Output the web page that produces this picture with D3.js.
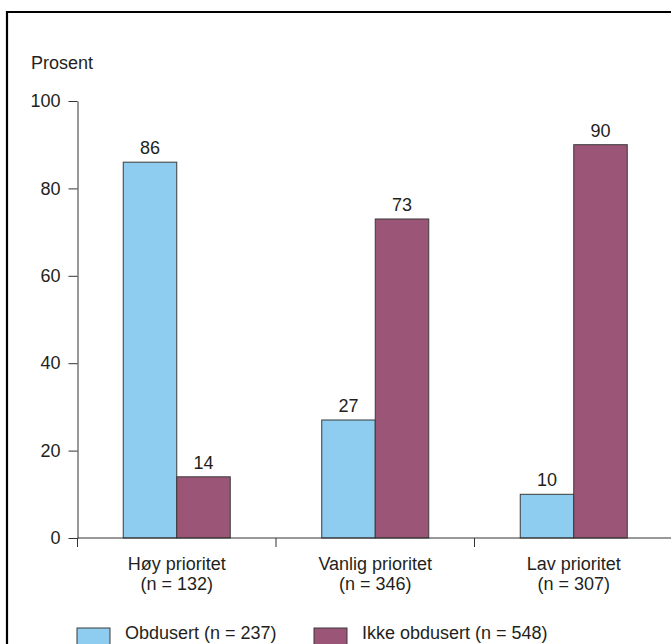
<!DOCTYPE html>
<html>
<head>
<meta charset="utf-8">
<script src="https://cdn.jsdelivr.net/npm/d3@7"></script>
<style>
  html, body { margin: 0; padding: 0; background: #fff; }
  svg { display: block; font-family: "Liberation Sans", Arial, Helvetica, sans-serif; }
</style>
</head>
<body>
<svg id="chart" width="671" height="644"></svg>
<script>
// Andel obdusert / ikke obdusert etter prioritet
const categories = ["Høy prioritet", "Vanlig prioritet", "Lav prioritet"];
const categoryN = ["(n = 132)", "(n = 346)", "(n = 307)"];
const seriesNames = ["Obdusert (n = 237)", "Ikke obdusert (n = 548)"];
const obdusert = [86, 27, 10];
const ikkeObdusert = [14, 73, 90];
const yTicks = [0, 20, 40, 60, 80, 100];
const yLabel = "Prosent";
const colors = ["#8ecdef", "#9b5577"];

const svg = d3.select("#chart");
const textColor = "#231f20";
const axisColor = "#333";

// outer frame (left and top edges)
svg.append("path")
  .attr("d", "M7,650 V12 H680")
  .attr("fill", "none")
  .attr("stroke", "#000")
  .attr("stroke-width", 2.2);

const x = d3.scaleBand().domain(categories).range([77.5, 673]).padding(0);
const y = d3.scaleLinear().domain([0, 100]).range([538, 101]);
const groupWidth = 107;
const x1 = d3.scaleBand().domain(seriesNames).range([0, groupWidth]);

// y axis
const yAxis = svg.append("g")
  .attr("transform", "translate(77.5,0)")
  .call(d3.axisLeft(y).tickValues(yTicks).tickSize(9).tickSizeOuter(0).tickPadding(8));
yAxis.select(".domain").attr("stroke", axisColor);
yAxis.selectAll(".tick line").attr("stroke", axisColor);
yAxis.selectAll(".tick text")
  .attr("fill", textColor)
  .style("font-size", "18px")
  .style("font-family", "'Liberation Sans', Arial, sans-serif");

svg.append("text")
  .attr("x", 31).attr("y", 69)
  .attr("fill", textColor)
  .style("font-size", "18px")
  .text(yLabel);

// bars
const rows = categories.map((c, i) => ({ cat: c, values: [obdusert[i], ikkeObdusert[i]] }));
const groups = svg.append("g").selectAll("g")
  .data(rows).join("g")
  .attr("transform", d => `translate(${x(d.cat) + (x.bandwidth() - groupWidth) / 2},0)`);

groups.selectAll("rect")
  .data(d => d.values.map((v, j) => ({ v, s: seriesNames[j], j })))
  .join("rect")
  .attr("x", d => x1(d.s))
  .attr("y", d => y(d.v))
  .attr("width", x1.bandwidth())
  .attr("height", d => y(0) - y(d.v))
  .attr("fill", d => colors[d.j])
  .attr("stroke", "#3a3a3a")
  .attr("stroke-width", 1);

groups.selectAll("text.val")
  .data(d => d.values.map((v, j) => ({ v, s: seriesNames[j] })))
  .join("text")
  .attr("class", "val")
  .attr("x", d => x1(d.s) + x1.bandwidth() / 2)
  .attr("y", d => y(d.v) - 8)
  .attr("text-anchor", "middle")
  .attr("fill", textColor)
  .style("font-size", "18px")
  .text(d => d.v);

// x axis: baseline with boundary ticks between categories
svg.append("line")
  .attr("x1", x.range()[0]).attr("x2", 680)
  .attr("y1", y(0)).attr("y2", y(0))
  .attr("stroke", axisColor);

const bounds = categories.map(c => x(c)).concat([x.range()[1]]);
svg.append("g").selectAll("line")
  .data(bounds).join("line")
  .attr("x1", d => d).attr("x2", d => d)
  .attr("y1", y(0)).attr("y2", y(0) + 9)
  .attr("stroke", axisColor);

const catLabels = svg.append("g").selectAll("text")
  .data(categories).join("text")
  .attr("x", d => x(d) + x.bandwidth() / 2)
  .attr("y", 570)
  .attr("text-anchor", "middle")
  .attr("fill", textColor)
  .style("font-size", "18px");
catLabels.append("tspan").attr("x", d => x(d) + x.bandwidth() / 2).text(d => d);
catLabels.append("tspan").attr("x", d => x(d) + x.bandwidth() / 2).attr("dy", 20)
  .text((d, i) => categoryN[i]);

// legend
const legendX = [77, 314];
const legend = svg.append("g").selectAll("g")
  .data(seriesNames).join("g")
  .attr("transform", (d, i) => `translate(${legendX[i]},628)`);
legend.append("rect")
  .attr("width", 33).attr("height", 20)
  .attr("fill", (d, i) => colors[i])
  .attr("stroke", "#3a3a3a");
legend.append("text")
  .attr("x", 48).attr("y", 11)
  .attr("fill", textColor)
  .style("font-size", "18px")
  .text(d => d);
</script>
</body>
</html>
